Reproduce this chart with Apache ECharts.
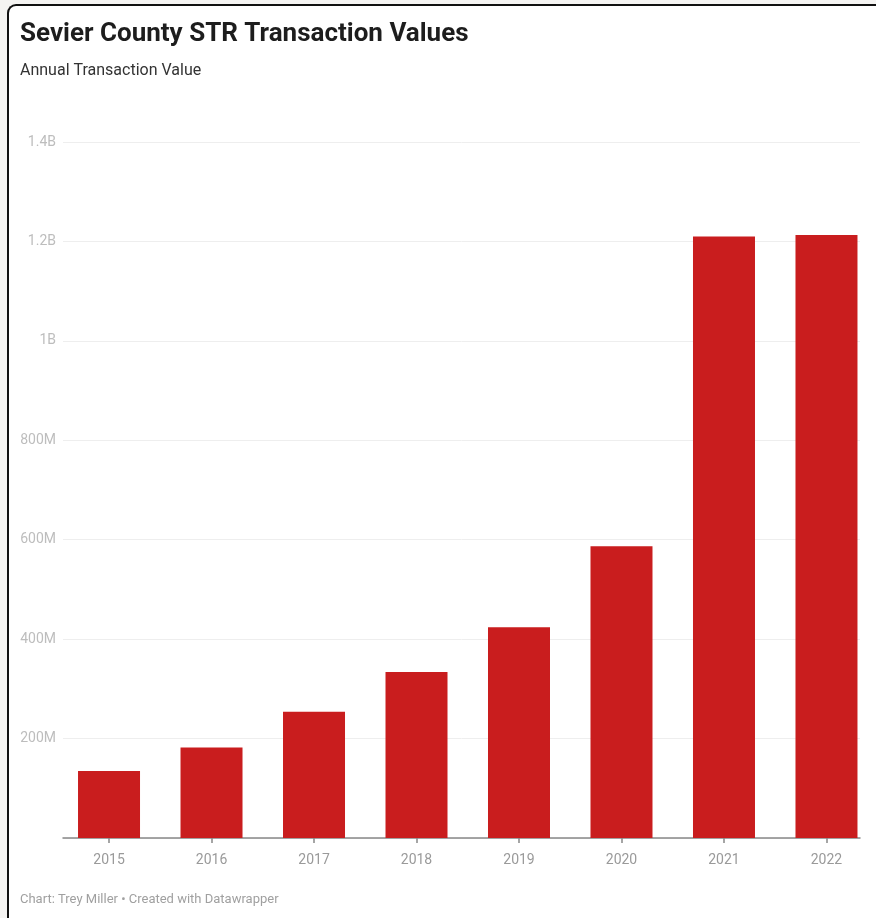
<!DOCTYPE html>
<html>
<head>
<meta charset="utf-8">
<script src="https://cdn.jsdelivr.net/npm/echarts@6/dist/echarts.min.js"></script>
<style>
  html, body { margin: 0; padding: 0; width: 876px; height: 918px; background: #f5f4f2; overflow: hidden; }
  #card { position: absolute; left: 7px; top: 4px; width: 900px; height: 950px; background: #ffffff;
          border-left: 2px solid #111; border-top: 2px solid #111; border-top-left-radius: 9px; }
  #chart { position: absolute; left: 0; top: 0; width: 876px; height: 918px; }
</style>
</head>
<body>
<div id="card"></div>
<div id="chart"></div>
<script>
const categories = ['2015', '2016', '2017', '2018', '2019', '2020', '2021', '2022'];
const values = [135e6, 182e6, 254e6, 334e6, 424e6, 587e6, 1210e6, 1213e6];
const yTicks = [0, 200e6, 400e6, 600e6, 800e6, 1000e6, 1200e6, 1400e6];
const yTickLabels = ['', '200M', '400M', '600M', '800M', '1B', '1.2B', '1.4B'];

const chart = echarts.init(document.getElementById('chart'), null, { renderer: 'canvas' });
const idx = categories.map((c, i) => i);
const barData = values.map((v, i) => [i, v]);

chart.setOption({
  backgroundColor: 'transparent',
  animation: false,
  textStyle: { fontFamily: 'Roboto' },
  title: [
    { text: 'Sevier County STR Transaction Values', left: 20, top: 21, padding: 0,
      textStyle: { fontFamily: 'Roboto', fontWeight: 'bold', fontSize: 26, color: '#1d1d1d' } },
    { text: 'Annual Transaction Value', left: 20, top: 63, padding: 0,
      textStyle: { fontFamily: 'Roboto', fontWeight: 'normal', fontSize: 16, color: '#333' } },
    { text: 'Chart: Trey Miller • Created with Datawrapper', left: 20, top: 893, padding: 0,
      textStyle: { fontFamily: 'Roboto', fontWeight: 'normal', fontSize: 13, color: '#a0a0a0' } }
  ],
  grid: { left: 63, right: 16, top: 142, bottom: 80, containLabel: false },
  xAxis: {
    type: 'value',
    min: -0.449,
    max: 7.327,
    axisLine: { show: true, onZero: false, lineStyle: { color: '#888', width: 1.5 } },
    axisTick: { show: true, customValues: idx, length: 5, lineStyle: { color: '#888', width: 1.5 } },
    axisLabel: { show: true, customValues: idx, margin: 15, color: '#9a9a9a', fontSize: 14,
                 formatter: v => categories[Math.round(v)] },
    splitLine: { show: false }
  },
  yAxis: {
    type: 'value',
    min: 0,
    max: 1400e6,
    interval: 200e6,
    axisLine: { show: false },
    axisTick: { show: false },
    axisLabel: { color: '#bdbdbd', fontSize: 14, margin: 7,
                 formatter: v => yTickLabels[yTicks.indexOf(v)] || '' },
    splitLine: { show: true, lineStyle: { color: '#eeeeee', width: 1 } }
  },
  series: [{
    type: 'bar',
    data: barData,
    barWidth: 62,
    itemStyle: { color: '#c91d1e' }
  }]
});
</script>
</body>
</html>
